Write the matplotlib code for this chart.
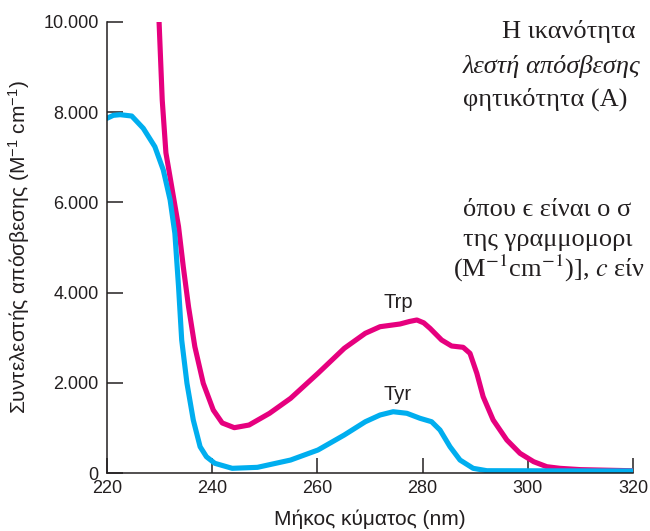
import matplotlib
matplotlib.use('Agg')
import matplotlib.pyplot as plt

plt.rcParams['font.family'] = ['Liberation Sans', 'DejaVu Sans']
plt.rcParams['mathtext.fontset'] = 'custom'
plt.rcParams['mathtext.rm'] = 'Liberation Sans'
plt.rcParams['mathtext.it'] = 'Liberation Sans:italic'

# wavelength (nm) vs extinction coefficient
trp_nm = [229.9, 230.5, 231.2, 232.3, 233.6, 234.5, 235.5, 236.7, 238.3, 240.2, 241.9,
          244.2, 247.0, 250.9, 254.9, 260.1, 265.1, 269.1, 271.9, 275.7, 277.5, 278.9,
          280.2, 281.4, 283.6, 285.5, 287.7, 289.0, 290.3, 291.5, 293.4, 296.0, 298.5,
          301.1, 303.6, 306.1, 310.0, 320.0]
trp_eps = [10000, 8270, 7100, 6349, 5462, 4575, 3687, 2800, 1989, 1397, 1110,
           1005, 1064, 1324, 1656, 2210, 2765, 3098, 3244, 3304, 3360, 3393,
           3330, 3208, 2949, 2816, 2787, 2653, 2210, 1692, 1176, 732, 437,
           251, 140, 104, 75, 50]

tyr_nm = [220.0, 221.2, 222.5, 224.7, 226.9, 229.1, 230.7, 232.0, 232.9, 233.6, 234.2,
          235.2, 236.4, 237.7, 238.9, 240.5, 243.8, 248.6, 254.9, 260.1, 265.1, 269.1,
          271.9, 274.4, 277.0, 279.5, 281.7, 283.3, 285.2, 287.1, 289.6, 292.2, 320.0]
tyr_eps = [7865, 7930, 7945, 7915, 7642, 7235, 6718, 6053, 5315, 4131, 2949,
           1989, 1176, 583, 361, 215, 104, 126, 288, 510, 843, 1137,
           1286, 1359, 1324, 1213, 1137, 953, 583, 288, 104, 51, 45]

x_ticks = [220, 240, 260, 280, 300, 320]
y_ticks = [0, 2000, 4000, 6000, 8000, 10000]
y_tick_labels = ['0', '2.000', '4.000', '6.000', '8.000', '10.000']

fig = plt.figure(figsize=(6.5, 5.31), dpi=100)
ax = fig.add_axes([0.1646, 0.1092, 0.8094, 0.8494])

ax.plot(trp_nm, trp_eps, color='#E6007E', lw=3.7, solid_joinstyle='round')
ax.plot(tyr_nm, tyr_eps, color='#00AEEF', lw=3.7, solid_joinstyle='round')

ax.set_xlim(220, 320)
ax.set_ylim(0, 10000)
ax.set_xticks(x_ticks)
ax.set_yticks(y_ticks)
ax.set_yticklabels(y_tick_labels)
for s in ['top', 'right']:
    ax.spines[s].set_visible(False)
for s in ['left', 'bottom']:
    ax.spines[s].set_color('#231F20')
    ax.spines[s].set_linewidth(1.1)
ax.tick_params(axis='x', direction='in', length=11, width=1.1, color='#231F20',
               labelsize=13, pad=5, labelcolor='#231F20')
ax.tick_params(axis='y', direction='in', length=11.5, width=1.1, color='#231F20',
               labelsize=13, pad=6, labelcolor='#231F20')

ax.set_xlabel('Μήκος κύματος (nm)', fontsize=15, color='#231F20', labelpad=9)
ax.set_ylabel('Συντελεστής απόσβεσης (M$^{-1}$ cm$^{-1}$)', fontsize=15,
              color='#231F20', labelpad=8)

ax.text(275.3, 3790, 'Trp', fontsize=14.5, ha='center', va='center', color='#231F20')
ax.text(275.3, 1730, 'Tyr', fontsize=14.5, ha='center', va='center', color='#231F20')

# page text from the book that runs over the figure (only the visible part)
serif = ['Liberation Serif', 'DejaVu Serif']
tc = '#231F20'
fs = 19
fig.text(502 / 650, 1 - 38 / 531, 'Η ικανότητα', family=serif, fontsize=fs, color=tc)
fig.text(463 / 650, 1 - 73 / 531, 'λεστή απόσβεσης', family=serif, fontsize=fs,
         style='italic', color=tc)
fig.text(463 / 650, 1 - 106 / 531, 'φητικότητα (A)', family=serif, fontsize=fs, color=tc)
fig.text(463 / 650, 1 - 216 / 531, 'όπου ϵ είναι ο σ', family=serif, fontsize=fs, color=tc)
fig.text(463 / 650, 1 - 246 / 531, 'της γραμμομορι', family=serif, fontsize=fs, color=tc)
fig.text(453 / 650, 1 - 277 / 531, '(M$^{-1}$cm$^{-1}$)], $c$ είν', family=serif,
         fontsize=fs, color=tc, math_fontfamily='stix')

fig.savefig('out.png', dpi=100)
